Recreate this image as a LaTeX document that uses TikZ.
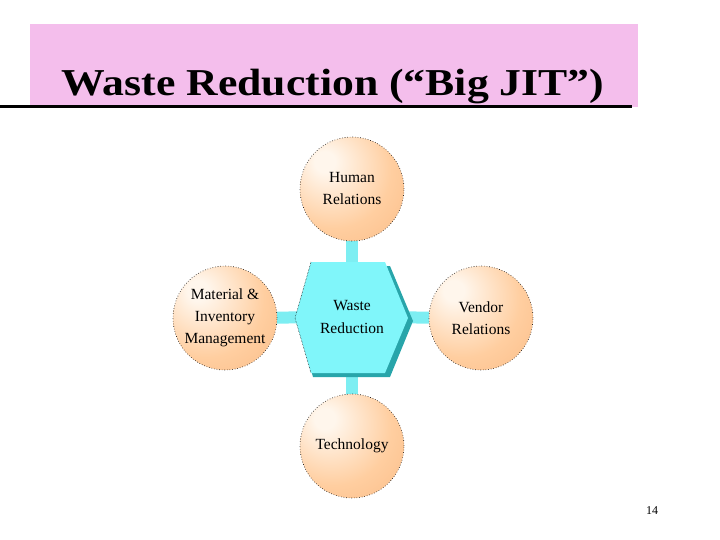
\documentclass[tikz,border=0pt]{standalone}
\usepackage{fontspec}
\setmainfont{Liberation Serif}
\usetikzlibrary{backgrounds}
\definecolor{pinkbg}{RGB}{244,190,236}
\definecolor{ballin}{RGB}{255,246,236}
\definecolor{ballmid}{RGB}{255,206,160}
\definecolor{ballout}{RGB}{247,176,118}
\definecolor{cyanface}{RGB}{128,246,250}
\definecolor{cyanshadow}{RGB}{40,165,170}
\definecolor{barcyan}{RGB}{125,238,242}
\pgfdeclareradialshading{orangeball}{\pgfpoint{-14bp}{14bp}}{color(0bp)=(ballin); color(5bp)=(ballin); color(28bp)=(ballmid); color(58bp)=(ballout); color(80bp)=(ballout)}
\tikzset{
  ball/.style={circle, minimum size=104pt, inner sep=0pt, shading=orangeball,
    draw=black, dotted, line width=0.6pt, align=center,
    font=\fontsize{15.5}{22}\selectfont},
  bar/.style={draw=barcyan, line width=12pt},
  lbl/.style={align=center, font=\fontsize{15.5}{22}\selectfont}
}
\begin{document}
\begin{tikzpicture}[x=1pt,y=-1pt]
\useasboundingbox (0,0) rectangle (720,540);
% title
\fill[pinkbg] (30,24) rectangle (638,107);
\draw[line width=3pt] (0,106.5) -- (632,106.5);
\node[anchor=base, font=\fontsize{38}{40}\selectfont\bfseries, inner sep=0pt, xscale=1.15] (title) at (333,96) {Waste Reduction (“Big JIT”)};
% circles
\node[ball] (hr) at (352,189) {Human\\Relations};
\node[ball] (mim) at (225,318) {Material \&\\Inventory\\Management};
\node[ball] (vr) at (481,318) {Vendor\\Relations};
\node[ball] (tech) at (352,446) {Technology};
% hexagon
\fill[cyanshadow] (297,321) -- (313,266) -- (390,266) -- (413,321) -- (390,377) -- (313,377) -- cycle;
\fill[cyanface] (295,318) -- (311,262) -- (385,262) -- (408,318) -- (385,373) -- (311,373) -- cycle;
\draw[densely dotted, line width=0.5pt] (311,262) -- (295,318) -- (311,373);
\node[lbl] (wr) at (352,317) {Waste\\Reduction};
% connectors
\begin{pgfonlayer}{background}
\draw[bar] (hr.center) -- (wr.center);
\draw[bar] (mim.center) -- (wr.center);
\draw[bar] (vr.center) -- (wr.center);
\draw[bar] (tech.center) -- (wr.center);
\end{pgfonlayer}
% page number
\node[font=\fontsize{12}{14}\selectfont] (pg) at (652,511) {14};
\end{tikzpicture}
\end{document}
